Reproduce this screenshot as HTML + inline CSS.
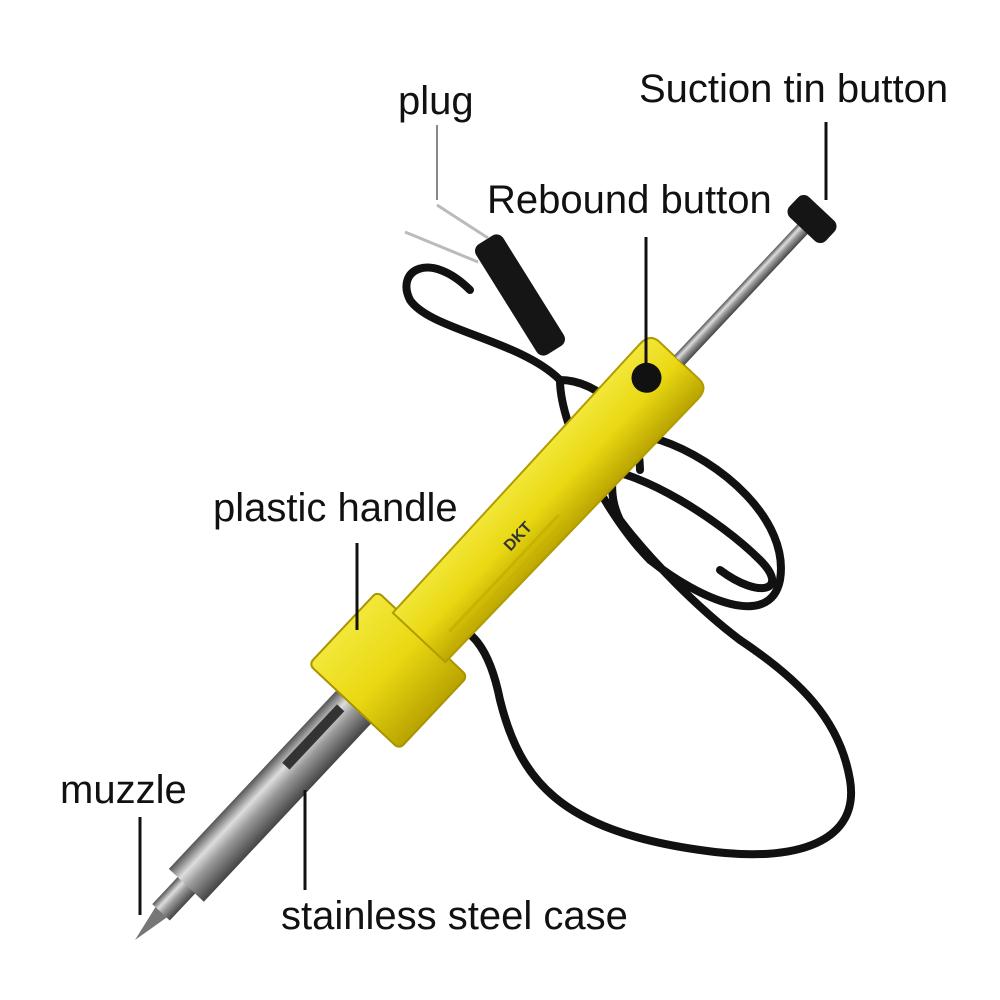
<!DOCTYPE html>
<html><head><meta charset="utf-8"><style>
html,body{margin:0;padding:0;background:#fff}
svg{display:block}
text{font-family:"Liberation Sans",sans-serif;fill:#111}
</style></head><body>
<svg width="1000" height="1000" viewBox="0 0 1000 1000" xmlns="http://www.w3.org/2000/svg">
<defs>
<linearGradient id="steel" x1="0" y1="0" x2="0" y2="1">
<stop offset="0" stop-color="#555"/><stop offset="0.3" stop-color="#ddd"/><stop offset="0.55" stop-color="#999"/><stop offset="1" stop-color="#444"/>
</linearGradient>
<linearGradient id="yel" x1="0" y1="0" x2="0" y2="1">
<stop offset="0" stop-color="#f3e83a"/><stop offset="0.5" stop-color="#e9d812"/><stop offset="1" stop-color="#b8a300"/>
</linearGradient>
</defs>

<!-- cable -->
<g fill="none" stroke="#111" stroke-width="8" stroke-linecap="round">
<path d="M440,628 C470,620 490,650 500,700 C520,780 560,830 700,850 C800,865 860,840 850,780 C840,720 800,680 740,640"/>
<path d="M740,640 C700,610 650,560 620,520 C600,480 620,430 660,440 C720,460 790,520 780,580 C770,630 700,600 650,560"/>
<path d="M650,560 C610,520 560,430 560,380"/>
<path d="M560,380 C520,340 430,330 410,300 C395,270 430,250 470,290"/>
<path d="M600,470 C640,470 720,520 760,560 C790,590 760,600 720,570"/>
<path d="M560,380 C600,380 640,420 640,470"/>
</g>

<!-- plug -->
<g transform="translate(520,295) rotate(-32)">
<rect x="-16" y="-65" width="32" height="130" rx="8" fill="#151515"/>
</g>
<line x1="405" y1="232" x2="478" y2="262" stroke="#bbb" stroke-width="3"/>
<line x1="437" y1="205" x2="488" y2="238" stroke="#bbb" stroke-width="3"/>

<!-- tool -->
<g transform="translate(135,940) rotate(-46.8)">
<polygon points="0,0 40,-8 40,8" fill="#777"/>
<rect x="38" y="-12" width="40" height="24" fill="url(#steel)"/>
<rect x="75" y="-24" width="265" height="48" fill="url(#steel)"/>
<rect x="230" y="-14" width="80" height="10" fill="#333"/>
<rect x="320" y="-62" width="100" height="124" rx="6" fill="url(#yel)" stroke="#a99400" stroke-width="2"/>
<path d="M415,-36 L780,-40 Q795,-40 795,-27 L795,27 Q795,40 780,40 L415,36 Z" fill="url(#yel)" stroke="#b09c00" stroke-width="2"/>
<g stroke="#c8b400" stroke-width="3">
<line x1="440" y1="26" x2="600" y2="26"/><line x1="440" y1="18" x2="600" y2="18"/>
</g>
<text x="540" y="8" font-size="16" font-weight="bold" style="fill:#333">DKT</text>
<circle cx="760" cy="-12" r="15" fill="#111"/>
<rect x="795" y="-7" width="185" height="14" fill="url(#steel)"/>
<rect x="975" y="-25" width="28" height="50" rx="8" fill="#151515"/>
</g>

<g stroke="#111" stroke-width="3">
<line x1="437" y1="125" x2="437" y2="200" stroke="#888" stroke-width="2"/>
<line x1="826" y1="122" x2="826" y2="200"/>
<line x1="646" y1="237" x2="646" y2="378"/>
<line x1="357" y1="543" x2="357" y2="630"/>
<line x1="140" y1="817" x2="140" y2="915"/>
<line x1="305" y1="790" x2="305" y2="890"/>
</g>

<text x="398" y="114" font-size="40">plug</text>
<text x="639" y="102" font-size="40">Suction tin button</text>
<text x="487" y="213" font-size="40">Rebound button</text>
<text x="213" y="521" font-size="40">plastic handle</text>
<text x="60" y="803" font-size="40">muzzle</text>
<text x="281" y="929" font-size="40">stainless steel case</text>
</svg>
</body></html>
